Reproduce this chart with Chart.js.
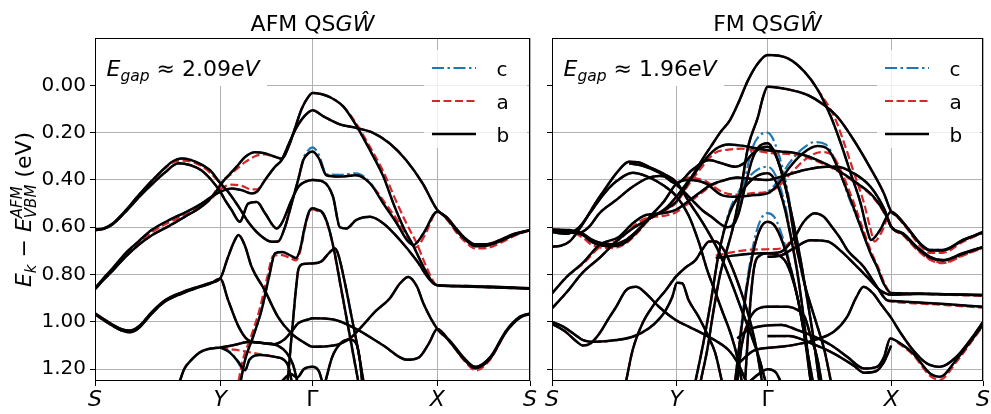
<!DOCTYPE html>
<html>
<head>
<meta charset="utf-8">
<script src="https://cdn.jsdelivr.net/npm/chart.js@4.4.0/dist/chart.umd.min.js"></script>
<style>
  html, body { margin: 0; padding: 0; background: #fff; }
  #wrap { position: relative; width: 991px; height: 414px; overflow: hidden; }
  canvas { position: absolute; top: 0; }
  #afm { left: 0; width: 540px; height: 414px; }
  #fm { left: 540px; width: 451px; height: 414px; }
</style>
</head>
<body>
<div id="wrap">
  <canvas id="afm" width="540" height="414"></canvas>
  <canvas id="fm" width="451" height="414"></canvas>
</div>
<script>
// ==========================
//  AXES
// ==========================
const kTicks = [0, 0.288, 0.5, 0.787, 1];
const kLabels = ['S', 'Y', 'Γ', 'X', 'S'];
const eTicks = [0, 0.2, 0.4, 0.6, 0.8, 1.0, 1.2];
const eMin = -0.2, eMax = 1.25;
const gapAFM = '2.09', gapFM = '1.96';

// ==========================
//  AFM BANDS  [k, E]
// ==========================
const afmT1 = [[0,.862],[.02,.822],[.04,.785],[.07,.725],[.1,.675],[.13,.635],[.17,.595],[.207,.555],[.235,.525],[.26,.49],[.28,.445],[.295,.405],[.31,.375],[.325,.345],[.345,.303],[.368,.283],[.39,.287],[.41,.3],[.43,.31],[.445,.26],[.46,.18],[.475,.1],[.49,.05],[.5,.032],[.52,.037],[.54,.05],[.571,.09],[.6,.168],[.632,.274],[.663,.386],[.686,.5],[.709,.6],[.732,.68],[.755,.767],[.778,.837],[.787,.845],[.85,.848],[.92,.852],[1,.858]];
const afmM = [[0,.858],[.02,.815],[.04,.775],[.07,.71],[.1,.66],[.13,.612],[.17,.57],[.21,.535],[.245,.5],[.27,.468],[.288,.45],[.314,.436],[.337,.443],[.36,.457],[.372,.45],[.391,.4],[.414,.344],[.429,.316],[.445,.25],[.46,.19],[.475,.145],[.49,.115],[.5,.105],[.524,.13],[.563,.165],[.6,.18],[.638,.2],[.677,.245],[.715,.316],[.753,.414],[.787,.527],[.81,.56],[.83,.605],[.85,.645],[.874,.672],[.9,.672],[.93,.655],[.96,.63],[1,.612]];
const afmP = [[0,.61],[.02,.605],[.04,.585],[.07,.53],[.1,.465],[.13,.405],[.16,.35],[.18,.32],[.199,.309],[.22,.315],[.245,.335],[.265,.36],[.288,.414],[.306,.45],[.33,.513],[.352,.577],[.375,.626],[.406,.661],[.421,.66],[.437,.598],[.452,.5],[.467,.4],[.479,.316],[.49,.288],[.5,.28],[.515,.31],[.532,.38],[.563,.386],[.6,.38],[.632,.414],[.663,.5],[.694,.584],[.717,.654],[.732,.675],[.755,.626],[.787,.534],[.81,.565],[.83,.612],[.85,.65],[.874,.68],[.9,.678],[.93,.66],[.96,.635],[1,.612]];
const afmQ = [[0,.612],[.02,.607],[.04,.588],[.07,.535],[.1,.475],[.13,.42],[.16,.37],[.192,.33],[.22,.338],[.245,.36],[.265,.395],[.288,.45],[.299,.485],[.314,.527],[.333,.577],[.352,.5],[.372,.493],[.391,.541],[.418,.605],[.429,.584],[.452,.485],[.467,.43],[.483,.408],[.5,.4],[.524,.407],[.547,.47],[.563,.6],[.578,.605],[.6,.57],[.632,.556],[.663,.584],[.701,.654],[.739,.74],[.77,.823],[.787,.845],[.85,.85],[.92,.855],[1,.86]];
const afmC = [[0,.964],[.03,1.0],[.06,1.03],[.08,1.037],[.1,1.02],[.13,.96],[.16,.91],[.2,.875],[.24,.85],[.265,.835],[.288,.816],[.305,.73],[.32,.66],[.33,.633],[.345,.68],[.36,.767],[.39,.866],[.421,.98],[.452,1.05],[.483,1.09],[.5,1.105],[.548,1.1],[.586,1.07],[.613,1.02],[.645,.955],[.678,.9],[.7,.84],[.72,.81],[.74,.85],[.755,.922],[.787,1.03],[.816,1.08],[.847,1.15],[.874,1.19],[.908,1.15],[.946,1.035],[.977,.978],[1,.964]];
const afmD = [[0,.968],[.03,1.005],[.06,1.036],[.08,1.044],[.1,1.027],[.13,.966],[.16,.915],[.2,.88],[.24,.853],[.265,.838],[.288,.818],[.306,.908],[.33,1.02],[.352,1.077],[.38,1.088],[.41,1.095],[.435,1.075],[.452,1.04],[.467,1.006],[.49,.99],[.5,.985],[.548,.99],[.6,1.03],[.663,1.1],[.717,1.16],[.745,1.15],[.768,1.09],[.787,1.03],[.816,1.085],[.847,1.155],[.874,1.196],[.908,1.156],[.946,1.04],[.977,.982],[1,.968]];
const afmF = [[.195,1.25],[.205,1.2],[.222,1.16],[.24,1.13],[.26,1.115],[.288,1.108],[.32,1.098],[.352,1.085],[.39,1.09],[.42,1.1],[.44,1.13],[.455,1.18],[.465,1.25]];
const afmG = [[.288,1.108],[.31,1.13],[.33,1.17],[.345,1.205],[.355,1.16],[.38,1.14],[.414,1.148],[.434,1.16],[.445,1.19],[.452,1.25]];
const afmH = [[.335,1.25],[.345,1.16],[.364,1.06],[.383,.95],[.4,.81],[.414,.71],[.43,.705],[.45,.72],[.462,.73],[.472,.69],[.482,.6],[.492,.535],[.5,.52],[.51,.525],[.524,.54],[.537,.6],[.55,.7],[.565,.85],[.58,1.0],[.595,1.15],[.605,1.25]];
const afmS = [[.443,1.25],[.45,1.1],[.455,1.0],[.462,.86],[.468,.775],[.48,.755],[.5,.753],[.52,.745],[.54,.705],[.552,.69],[.56,.72],[.575,.84],[.59,.98],[.605,1.12],[.617,1.25]];
const afmArc = [[.53,1.25],[.545,1.15],[.565,1.09],[.585,1.075],[.6,1.09],[.608,1.15],[.614,1.25]];
const afmBot = [[.43,1.25],[.45,1.22],[.465,1.235],[.48,1.2],[.5,1.19],[.515,1.21],[.522,1.25]];

// red (a) and blue (c) where they part from b
const afmT1Red = [[0,.862],[.02,.822],[.04,.785],[.07,.725],[.1,.675],[.13,.635],[.17,.595],[.207,.555],[.235,.525],[.26,.49],[.28,.44],[.295,.4],[.31,.38],[.325,.355],[.345,.325],[.368,.3],[.39,.292],[.41,.3],[.43,.31],[.445,.26],[.46,.18],[.475,.1],[.49,.05],[.5,.032],[.52,.037],[.54,.05],[.571,.09],[.6,.16],[.632,.26],[.663,.365],[.69,.48],[.715,.58],[.74,.67],[.76,.76],[.78,.835],[.787,.845],[.85,.848],[.92,.852],[1,.858]];
const afmMRed = [[0,.858],[.02,.815],[.04,.775],[.07,.715],[.1,.668],[.13,.622],[.17,.58],[.21,.546],[.245,.51],[.27,.475],[.288,.44],[.314,.42],[.337,.425],[.36,.44],[.372,.44],[.391,.4],[.414,.344],[.429,.316],[.445,.25],[.46,.19],[.475,.145],[.49,.115],[.5,.105],[.524,.13],[.563,.165],[.6,.18],[.638,.2],[.677,.245],[.715,.316],[.753,.414],[.787,.527],[.81,.56],[.83,.605],[.85,.645],[.874,.672],[.9,.672],[.93,.655],[.96,.63],[1,.612]];
const afmPRed = [[0,.61],[.02,.605],[.04,.585],[.07,.53],[.1,.465],[.13,.405],[.16,.352],[.18,.325],[.199,.318],[.22,.322],[.245,.342],[.265,.37],[.288,.414],[.306,.45],[.33,.513],[.352,.577],[.375,.626],[.406,.661],[.421,.66],[.437,.598],[.452,.5],[.467,.4],[.479,.316],[.49,.288],[.5,.28],[.515,.31],[.532,.38],[.563,.386],[.6,.38],[.632,.414],[.668,.5],[.7,.584],[.723,.654],[.737,.685],[.758,.635],[.787,.534],[.81,.57],[.83,.62],[.85,.66],[.874,.69],[.9,.688],[.93,.668],[.96,.64],[1,.612]];
const afmPBlue = [[0,.61],[.02,.605],[.04,.585],[.07,.53],[.1,.465],[.13,.405],[.16,.35],[.18,.32],[.199,.309],[.22,.315],[.245,.335],[.265,.36],[.288,.414],[.306,.45],[.33,.513],[.352,.577],[.375,.626],[.406,.661],[.421,.66],[.437,.598],[.452,.5],[.467,.4],[.479,.31],[.49,.275],[.5,.262],[.515,.295],[.532,.375],[.563,.378],[.6,.372],[.632,.41],[.663,.5],[.694,.584],[.717,.654],[.732,.675],[.755,.626],[.787,.534],[.81,.565],[.83,.612],[.85,.65],[.874,.68],[.9,.678],[.93,.66],[.96,.635],[1,.612]];
const afmCRed = [[0,.964],[.03,1.0],[.06,1.03],[.08,1.037],[.1,1.02],[.13,.96],[.16,.91],[.2,.875],[.24,.85],[.265,.835],[.288,.816],[.305,.73],[.32,.66],[.33,.633],[.345,.68],[.36,.767],[.39,.866],[.421,.98],[.452,1.05],[.483,1.09],[.5,1.105],[.548,1.1],[.586,1.07],[.613,1.02],[.645,.955],[.678,.9],[.7,.84],[.72,.81],[.74,.85],[.755,.922],[.787,1.03],[.816,1.085],[.847,1.16],[.876,1.205],[.908,1.16],[.946,1.04],[.977,.98],[1,.964]];
const afmGRed = [[.288,1.108],[.31,1.115],[.33,1.12],[.36,1.13],[.39,1.14],[.414,1.148],[.434,1.16],[.445,1.19],[.452,1.25]];
const afmGBlue = [[.288,1.108],[.305,1.12],[.322,1.15],[.335,1.19],[.345,1.205],[.355,1.16],[.38,1.14],[.414,1.148],[.434,1.16],[.445,1.19],[.452,1.25]];
const afmHRed = [[.33,1.25],[.34,1.16],[.359,1.06],[.378,.95],[.396,.81],[.41,.72],[.43,.718],[.45,.732],[.462,.74],[.472,.7],[.482,.61],[.492,.54],[.5,.525],[.51,.53],[.524,.545],[.537,.605],[.55,.705],[.565,.855],[.58,1.005],[.595,1.155],[.605,1.25]];

const afmBlack = [afmT1, afmM, afmP, afmQ, afmC, afmD, afmF, afmG, afmH, afmS, afmArc, afmBot];
const afmRed = [afmT1Red, afmMRed, afmPRed, afmQ, afmCRed, afmD, afmF, afmGRed, afmHRed, afmS, afmArc, afmBot];
const afmBlue = [afmT1, afmM, afmPBlue, afmQ, afmC, afmD, afmF, afmGBlue, afmH, afmS, afmArc, afmBot];

// ==========================
//  FM BANDS  [k, E]
// ==========================
const fmA = [[0,.682],[.02,.678],[.041,.66],[.07,.59],[.1,.5],[.13,.42],[.15,.37],[.179,.323],[.2,.325],[.225,.345],[.26,.375],[.289,.41],[.317,.49],[.356,.6],[.386,.7],[.417,.837],[.44,.95],[.463,1.06],[.48,1.15],[.495,1.25]];
const fmB = [[0,.612],[.041,.615],[.072,.633],[.09,.66],[.11,.675],[.14,.68],[.17,.665],[.2,.615],[.225,.565],[.26,.528],[.289,.49],[.317,.41],[.348,.33],[.379,.27],[.41,.25],[.44,.255],[.47,.265],[.5,.275],[.57,.288],[.616,.316],[.662,.358],[.708,.414],[.746,.471],[.777,.556],[.787,.598],[.815,.626],[.846,.682],[.877,.725],[.907,.739],[.953,.71],[1,.683]];
const fmC = [[0,.614],[.03,.62],[.06,.625],[.085,.6],[.11,.541],[.149,.485],[.187,.429],[.225,.39],[.25,.383],[.264,.386],[.294,.429],[.325,.485],[.35,.53],[.37,.556],[.39,.585],[.405,.6],[.418,.595],[.433,.541],[.448,.429],[.464,.316],[.48,.26],[.5,.245],[.524,.316],[.547,.47],[.563,.65],[.575,.75],[.586,.84],[.609,.98],[.632,1.12],[.647,1.25]];
const fmD = [[0,.88],[.034,.81],[.072,.75],[.11,.675],[.156,.64],[.187,.584],[.218,.548],[.256,.541],[.287,.527],[.31,.499],[.34,.457],[.37,.42],[.402,.4],[.43,.39],[.46,.395],[.5,.4],[.532,.386],[.586,.358],[.639,.344],[.662,.344],[.7,.372],[.739,.429],[.77,.52],[.787,.598],[.815,.63],[.846,.686],[.877,.728],[.907,.741],[.953,.712],[1,.684]];
const fmE = [[0,.943],[.034,.875],[.072,.79],[.11,.73],[.149,.66],[.187,.605],[.225,.565],[.264,.52],[.289,.47],[.31,.42],[.33,.37],[.35,.31],[.37,.255],[.39,.2],[.413,.147],[.432,.076],[.455,-.022],[.478,-.093],[.5,-.128],[.547,-.114],[.586,-.057],[.617,.02],[.647,.133],[.67,.245],[.693,.372],[.716,.499],[.731,.61],[.74,.654],[.76,.615],[.787,.534],[.8,.55],[.823,.598],[.854,.668],[.877,.696],[.907,.696],[.953,.654],[1,.62]];
const fmF = [[.345,1.25],[.36,1.12],[.375,.95],[.39,.8],[.405,.7],[.42,.6],[.44,.42],[.455,.26],[.478,.133],[.49,.048],[.5,.006],[.547,.017],[.593,.041],[.631,.083],[.662,.133],[.7,.231],[.739,.351],[.77,.457],[.787,.534],[.8,.552],[.823,.6],[.854,.67],[.877,.698],[.907,.698],[.953,.656],[1,.622]];
const fmT = [[0,.61],[.041,.612],[.072,.628],[.09,.65],[.11,.665],[.14,.672],[.17,.655],[.2,.61],[.23,.55],[.26,.49],[.289,.415],[.317,.4],[.356,.414],[.394,.464],[.425,.471],[.471,.464],[.5,.457],[.524,.42],[.55,.35],[.58,.29],[.616,.257],[.64,.27],[.662,.344],[.693,.485],[.716,.598],[.739,.71],[.754,.767],[.77,.84],[.787,.878],[.85,.88],[.92,.883],[1,.886]];
const fmG = [[.179,.33],[.21,.34],[.25,.37],[.289,.415],[.325,.358],[.364,.316],[.394,.33],[.425,.344],[.445,.33],[.465,.29],[.485,.265],[.5,.26],[.52,.3],[.54,.42],[.56,.58],[.575,.72],[.59,.88],[.605,1.05],[.62,1.25]];
const fmH = [[.333,1.25],[.35,1.1],[.368,.92],[.386,.72],[.41,.55],[.44,.45],[.47,.39],[.5,.372],[.52,.41],[.54,.52],[.555,.65],[.57,.8],[.585,1.0],[.6,1.25]];
const fmI = [[.425,1.25],[.44,1.02],[.455,.82],[.47,.68],[.485,.6],[.5,.577],[.515,.59],[.53,.64],[.55,.75],[.57,.9],[.59,1.1],[.605,1.25]];
const fmJ = [[.38,.73],[.42,.72],[.46,.712],[.5,.71],[.53,.705],[.56,.65],[.585,.575],[.609,.541],[.63,.555],[.65,.6],[.67,.65],[.685,.696],[.723,.767],[.754,.852],[.777,.908],[.792,.912],[.85,.918],[.92,.926],[1,.936]];
const fmU = [[.5,.725],[.53,.72],[.56,.69],[.6,.655],[.64,.66],[.67,.7],[.7,.753],[.731,.81],[.761,.866],[.787,.885],[.85,.882],[.92,.884],[1,.887]];
const fmV = [[.448,1.25],[.455,1.05],[.462,.88],[.47,.76],[.482,.72],[.5,.71],[.52,.715],[.54,.74],[.555,.8],[.57,.9],[.585,1.05],[.6,1.25]];
const fmK = [[0,.62],[.03,.628],[.06,.605],[.09,.535],[.12,.46],[.15,.405],[.187,.37],[.22,.385],[.26,.425],[.289,.47],[.317,.55],[.34,.66],[.36,.78],[.38,.88],[.394,.95],[.417,1.063],[.43,1.15],[.44,1.25]];
const fmL = [[0,1.0],[.026,1.02],[.05,1.05],[.072,1.077],[.1,1.084],[.149,1.077],[.187,1.063],[.225,1.027],[.25,.985],[.264,.95],[.279,.895],[.29,.835],[.302,.837],[.317,.908],[.34,.978],[.363,1.063],[.379,1.133],[.394,1.25]];
const fmN = [[0,1.008],[.03,1.04],[.055,1.08],[.072,1.1],[.09,1.09],[.11,1.049],[.13,.99],[.149,.936],[.172,.866],[.195,.852],[.218,.88],[.248,.936],[.287,.992],[.317,1.02],[.35,1.05],[.38,1.08],[.41,1.12],[.43,1.17],[.45,1.25]];
const fmO = [[.172,1.25],[.187,1.12],[.21,1.006],[.233,.936],[.264,.866],[.287,.81],[.31,.77],[.333,.739],[.348,.696],[.365,.66],[.38,.66],[.4,.7],[.42,.78],[.44,.88],[.46,1.0],[.475,1.12],[.487,1.25]];
const fmP = [[.43,1.25],[.44,1.1],[.455,1.0],[.47,.955],[.5,.936],[.547,.936],[.57,.95],[.586,.978],[.6,1.06],[.615,1.15],[.625,1.25]];
const fmQ = [[.43,1.18],[.47,1.12],[.532,1.105],[.609,1.077],[.655,1.04],[.685,.978],[.705,.9],[.723,.852],[.745,.88],[.765,.93],[.785,.978],[.81,1.05],[.838,1.12],[.869,1.175],[.9,1.19],[.938,1.148],[.976,1.063],[1,1.0]];
const fmR = [[.43,1.07],[.455,1.034],[.5,1.015],[.532,1.013],[.57,1.035],[.609,1.063],[.647,1.098],[.685,1.148],[.724,1.197],[.754,1.19],[.77,1.15],[.785,1.07],[.807,1.09],[.838,1.133],[.877,1.218],[.9,1.232],[.938,1.16],[1,1.013]];
const fmR2 = [[.5,1.06],[.55,1.06],[.6,1.09],[.65,1.13],[.7,1.185],[.724,1.215],[.75,1.21],[.77,1.17],[.787,1.1]];
const fmW = [[.46,1.25],[.48,1.22],[.5,1.2],[.52,1.215],[.53,1.25]];

const fmBRed = [[0,.612],[.041,.618],[.072,.645],[.09,.672],[.11,.685],[.14,.688],[.17,.67],[.2,.62],[.225,.57],[.26,.532],[.289,.495],[.317,.42],[.348,.345],[.379,.285],[.41,.272],[.44,.268],[.47,.275],[.5,.285],[.57,.295],[.616,.322],[.662,.362],[.708,.418],[.746,.476],[.777,.56],[.787,.598],[.815,.63],[.846,.69],[.877,.735],[.907,.75],[.953,.718],[1,.686]];
const fmDRed = [[0,.88],[.034,.81],[.072,.755],[.11,.685],[.156,.652],[.187,.598],[.218,.562],[.256,.553],[.287,.538],[.31,.508],[.34,.465],[.37,.425],[.402,.4],[.43,.39],[.46,.395],[.5,.4],[.532,.386],[.586,.358],[.639,.344],[.662,.344],[.7,.372],[.739,.429],[.77,.52],[.787,.598],[.815,.635],[.846,.694],[.877,.738],[.907,.752],[.953,.72],[1,.687]];
const fmERed = [[0,.943],[.034,.875],[.072,.79],[.11,.73],[.149,.66],[.187,.605],[.225,.565],[.264,.52],[.289,.47],[.31,.42],[.33,.37],[.35,.31],[.37,.255],[.39,.2],[.413,.147],[.432,.076],[.455,-.022],[.478,-.093],[.5,-.128],[.547,-.114],[.586,-.057],[.617,.02],[.655,.133],[.678,.245],[.701,.372],[.724,.499],[.738,.6],[.748,.66],[.765,.62],[.787,.534],[.8,.555],[.823,.605],[.854,.678],[.877,.708],[.907,.708],[.953,.662],[1,.624]];
const fmTRed = [[0,.61],[.041,.612],[.072,.628],[.09,.65],[.11,.665],[.14,.672],[.17,.655],[.2,.61],[.23,.55],[.26,.49],[.289,.415],[.317,.39],[.356,.405],[.394,.45],[.425,.462],[.471,.455],[.5,.45],[.524,.43],[.555,.37],[.59,.31],[.625,.282],[.65,.295],[.67,.36],[.699,.49],[.72,.6],[.742,.71],[.757,.77],[.772,.84],[.787,.878],[.85,.882],[.92,.886],[1,.89]];
const fmTBlue = [[0,.61],[.041,.612],[.072,.628],[.09,.65],[.11,.665],[.14,.672],[.17,.655],[.2,.61],[.23,.55],[.26,.49],[.289,.415],[.317,.4],[.356,.414],[.394,.464],[.425,.471],[.471,.464],[.5,.45],[.524,.405],[.55,.33],[.58,.27],[.61,.24],[.635,.25],[.66,.33],[.69,.48],[.716,.598],[.739,.71],[.754,.767],[.77,.84],[.787,.878],[.85,.88],[.92,.883],[1,.886]];
const fmJRed = [[.38,.72],[.42,.705],[.46,.695],[.5,.693],[.53,.69],[.56,.645],[.585,.575],[.609,.541],[.63,.555],[.65,.6],[.67,.65],[.685,.696],[.723,.767],[.754,.852],[.777,.908],[.792,.915],[.85,.922],[.92,.93],[1,.94]];
const fmRRed = [[.43,1.07],[.455,1.034],[.5,1.015],[.532,1.013],[.57,1.035],[.609,1.063],[.647,1.098],[.685,1.148],[.724,1.197],[.754,1.19],[.77,1.15],[.785,1.07],[.807,1.095],[.838,1.14],[.877,1.228],[.9,1.245],[.938,1.17],[1,1.016]];
const fmCBlue = [[0,.614],[.03,.62],[.06,.625],[.085,.6],[.11,.541],[.149,.485],[.187,.429],[.225,.39],[.25,.383],[.264,.386],[.294,.429],[.325,.485],[.35,.53],[.37,.556],[.39,.585],[.405,.6],[.418,.59],[.433,.52],[.448,.39],[.464,.27],[.48,.215],[.5,.2],[.524,.28],[.547,.45],[.563,.64],[.575,.75],[.586,.84],[.609,.98],[.632,1.12],[.647,1.25]];
const fmHBlue = [[.333,1.25],[.35,1.1],[.368,.92],[.386,.72],[.41,.54],[.44,.43],[.47,.365],[.5,.344],[.52,.385],[.54,.5],[.555,.64],[.57,.8],[.585,1.0],[.6,1.25]];
const fmIBlue = [[.425,1.25],[.44,1.0],[.455,.8],[.47,.65],[.485,.565],[.5,.54],[.515,.555],[.53,.615],[.55,.74],[.57,.9],[.59,1.1],[.605,1.25]];

const fmBlack = [fmA, fmB, fmC, fmD, fmE, fmF, fmT, fmG, fmH, fmI, fmJ, fmU, fmV, fmK, fmL, fmN, fmO, fmP, fmQ, fmR, fmR2, fmW];
const fmRed = [fmA, fmBRed, fmC, fmDRed, fmERed, fmF, fmTRed, fmG, fmH, fmI, fmJRed, fmU, fmV, fmK, fmL, fmN, fmO, fmP, fmQ, fmRRed, fmR2, fmW];
const fmBlue = [fmA, fmB, fmCBlue, fmD, fmE, fmF, fmTBlue, fmG, fmHBlue, fmIBlue, fmJ, fmU, fmV, fmK, fmL, fmN, fmO, fmP, fmQ, fmR, fmR2, fmW];

// ==========================
//  STYLE
// ==========================
const BLACK = '#000000', RED = '#d62728', BLUE = '#1f77b4';
const DASH_A = [8, 3.5], DASH_C = [12, 3.5, 2.5, 3.5];
const FONT = '"DejaVu Sans"';

function fnt(size, italic) {
  return (italic ? 'italic ' : '') + size + 'px ' + FONT;
}

function lineSet(band, color, dash, width, order) {
  return {
    data: band.map(p => ({ x: p[0], y: p[1] })),
    borderColor: color,
    borderWidth: width,
    borderDash: dash,
    pointRadius: 0,
    fill: false,
    cubicInterpolationMode: 'monotone',
    clip: 0,
    order: order
  };
}

function buildSets(black, red, blue) {
  return [
    ...black.map(b => lineSet(b, BLACK, [], 2.5, 0)),
    ...red.map(b => lineSet(b, RED, DASH_A, 2.2, 1)),
    ...blue.map(b => lineSet(b, BLUE, DASH_C, 2.2, 2))
  ];
}

// draw a row of text pieces, each {t, s, i, dy}
function drawRuns(ctx, x, y, runs) {
  for (const r of runs) {
    ctx.font = fnt(r.s, r.i);
    ctx.fillText(r.t, x, y + (r.dy || 0));
    x += ctx.measureText(r.t).width;
  }
  return x;
}
function runsWidth(ctx, runs) {
  let w = 0;
  for (const r of runs) { ctx.font = fnt(r.s, r.i); w += ctx.measureText(r.t).width; }
  return w;
}

// ==========================
//  DECORATIONS
// ==========================
function decor(opts) {
  return {
    id: 'decor',
    afterDatasetsDraw(chart) {
      const ctx = chart.ctx, a = chart.chartArea;
      ctx.save();
      ctx.textAlign = 'left';
      ctx.textBaseline = 'alphabetic';

      // gap text with white box
      ctx.fillStyle = '#ffffff';
      ctx.fillRect(a.left + 1, a.top + 1, 171, 47);
      ctx.fillStyle = '#000';
      drawRuns(ctx, a.left + 11.5, 76, [
        { t: 'E', s: 22, i: true },
        { t: 'gap', s: 15.5, i: true, dy: 5 },
        { t: ' \u2248 ', s: 22 },
        { t: opts.gap, s: 22 },
        { t: 'eV', s: 22, i: true }
      ]);

      // legend
      ctx.fillStyle = 'rgba(255,255,255,0.8)';
      ctx.fillRect(a.right - 106, 50, 103, 98);
      const items = [
        { y: 68, color: BLUE, dash: DASH_C, label: 'c' },
        { y: 101, color: RED, dash: DASH_A, label: 'a' },
        { y: 134, color: BLACK, dash: [], label: 'b' }
      ];
      for (const it of items) {
        ctx.strokeStyle = it.color;
        ctx.lineWidth = it.color === BLACK ? 2.5 : 2.2;
        ctx.setLineDash(it.dash);
        ctx.beginPath();
        ctx.moveTo(a.right - 98, it.y);
        ctx.lineTo(a.right - 54, it.y);
        ctx.stroke();
        ctx.setLineDash([]);
        ctx.fillStyle = '#000';
        ctx.font = fnt(20, false);
        ctx.fillText(it.label, a.right - 33.5, it.y + 8);
      }
      ctx.restore();
    },
    afterDraw(chart) {
      const ctx = chart.ctx, a = chart.chartArea;
      ctx.save();
      // frame
      ctx.strokeStyle = '#000';
      ctx.lineWidth = 1;
      ctx.strokeRect(Math.round(a.left) + 0.5, Math.round(a.top) + 0.5,
        Math.round(a.right - a.left) - 1, Math.round(a.bottom - a.top) - 1);

      // title
      ctx.fillStyle = '#000';
      ctx.textBaseline = 'alphabetic';
      const title = [
        { t: opts.title + ' QS', s: 22 },
        { t: 'G\u0174', s: 22, i: true }
      ];
      const tw = runsWidth(ctx, title);
      drawRuns(ctx, (a.left + a.right) / 2 - tw / 2, 31, title);

      // y axis label
      if (opts.ylabel) {
        ctx.translate(31, (a.top + a.bottom) / 2);
        ctx.rotate(-Math.PI / 2);
        const head = [
          { t: 'E', s: 22, i: true },
          { t: 'k', s: 15, i: true, dy: 5 },
          { t: ' \u2212 ', s: 22 },
          { t: 'E', s: 22, i: true }
        ];
        const tail = [{ t: ' (eV)', s: 22 }];
        ctx.font = fnt(15, true);
        const stackW = Math.max(ctx.measureText('AFM').width, ctx.measureText('VBM').width);
        const total = runsWidth(ctx, head) + stackW + runsWidth(ctx, tail);
        let x = -total / 2;
        x = drawRuns(ctx, x, 0, head);
        ctx.font = fnt(15, true);
        ctx.fillText('AFM', x, -9);
        ctx.fillText('VBM', x, 5);
        x += stackW;
        drawRuns(ctx, x, 0, tail);
      }
      ctx.restore();
    }
  };
}

function axes(showY, yWidth) {
  const grid = { color: '#b0b0b0', lineWidth: 1, tickLength: 5, tickColor: '#000', tickWidth: 1 };
  return {
    x: {
      type: 'linear', min: 0, max: 1,
      afterBuildTicks: s => { s.ticks = kTicks.map(v => ({ value: v })); },
      afterFit: s => { s.height = 33; },
      grid: grid,
      border: { display: false },
      ticks: {
        autoSkip: false, maxRotation: 0, minRotation: 0, padding: 1, color: '#000',
        callback: (v, i) => kLabels[i],
        font: c => ({ family: FONT, size: 22, style: kLabels[c.index] === 'Γ' ? 'normal' : 'italic' })
      }
    },
    y: {
      type: 'linear', reverse: true, min: eMin, max: eMax,
      afterBuildTicks: s => { s.ticks = eTicks.map(v => ({ value: v })); },
      afterFit: s => { s.width = yWidth; },
      grid: grid,
      border: { display: false },
      ticks: {
        padding: 4, color: '#000',
        font: { family: FONT, size: 20 },
        callback: v => (showY ? Number(v).toFixed(2) : '')
      }
    }
  };
}

function makeChart(id, sets, opts, yWidth, padRight) {
  return new Chart(document.getElementById(id), {
    type: 'line',
    data: { datasets: sets },
    options: {
      responsive: false,
      animation: false,
      devicePixelRatio: 1,
      layout: { autoPadding: false, padding: { top: 38, right: padRight, left: 0, bottom: 0 } },
      plugins: { legend: { display: false }, tooltip: { enabled: false }, title: { display: false } },
      events: [],
      scales: axes(opts.ylabel, yWidth)
    },
    plugins: [decor(opts)]
  });
}

makeChart('afm', buildSets(afmBlack, afmRed, afmBlue), { title: 'AFM', gap: gapAFM, ylabel: true }, 95, 10);
makeChart('fm', buildSets(fmBlack, fmRed, fmBlue), { title: 'FM', gap: gapFM, ylabel: false }, 12, 4);
</script>
</body>
</html>
